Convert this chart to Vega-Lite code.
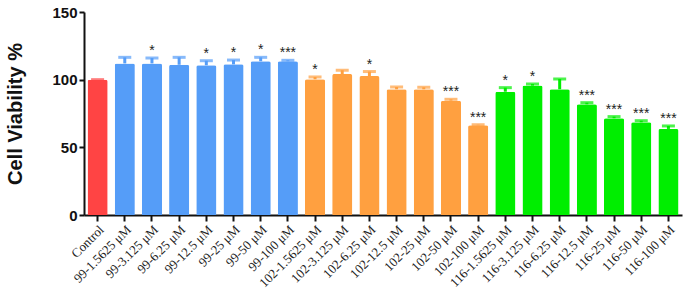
{
  "$schema": "https://vega.github.io/schema/vega-lite/v6.json",
  "width": 598,
  "height": 203,
  "autosize": "none",
  "padding": {"left": 84, "top": 12, "right": 3, "bottom": 86},
  "background": "white",
  "config": {"view": {"stroke": null}},
  "data": {
    "values": [
      {"label": "Control", "group": "Control", "value": 100, "err": 100, "sig": ""},
      {"label": "99-1.5625 μM", "group": "99", "value": 112, "err": 116.5, "sig": ""},
      {"label": "99-3.125 μM", "group": "99", "value": 112, "err": 116, "sig": "*"},
      {"label": "99-6.25 μM", "group": "99", "value": 111, "err": 116.5, "sig": ""},
      {"label": "99-12.5 μM", "group": "99", "value": 110.6, "err": 114, "sig": "*"},
      {"label": "99-25 μM", "group": "99", "value": 111.3, "err": 114.5, "sig": "*"},
      {"label": "99-50 μM", "group": "99", "value": 113.6, "err": 116.5, "sig": "*"},
      {"label": "99-100 μM", "group": "99", "value": 113.6, "err": 114.3, "sig": "***"},
      {"label": "102-1.5625 μM", "group": "102", "value": 100.3, "err": 102, "sig": "*"},
      {"label": "102-3.125 μM", "group": "102", "value": 104.2, "err": 107, "sig": ""},
      {"label": "102-6.25 μM", "group": "102", "value": 102.7, "err": 106, "sig": "*"},
      {"label": "102-12.5 μM", "group": "102", "value": 92.9, "err": 94.6, "sig": ""},
      {"label": "102-25 μM", "group": "102", "value": 92.9, "err": 94.4, "sig": ""},
      {"label": "102-50 μM", "group": "102", "value": 84.5, "err": 85.5, "sig": "***"},
      {"label": "102-100 μM", "group": "102", "value": 66.3, "err": 66.7, "sig": "***"},
      {"label": "116-1.5625 μM", "group": "116", "value": 91.1, "err": 94.1, "sig": "*"},
      {"label": "116-3.125 μM", "group": "116", "value": 95.6, "err": 96.8, "sig": "*"},
      {"label": "116-6.25 μM", "group": "116", "value": 92.9, "err": 100.5, "sig": ""},
      {"label": "116-12.5 μM", "group": "116", "value": 81.8, "err": 83, "sig": "***"},
      {"label": "116-25 μM", "group": "116", "value": 71.5, "err": 72.7, "sig": "***"},
      {"label": "116-50 μM", "group": "116", "value": 68.5, "err": 69.7, "sig": "***"},
      {"label": "116-100 μM", "group": "116", "value": 63.6, "err": 65.8, "sig": "***"}
    ]
  },
  "encoding": {
    "x": {
      "field": "label",
      "type": "nominal",
      "sort": null,
      "scale": {"paddingInner": 0.26, "paddingOuter": 0.13},
      "axis": {
        "title": null,
        "labelAngle": -45,
        "labelFont": "Liberation Serif",
        "labelFontSize": 13,
        "labelColor": "#222",
        "labelPadding": 2,
        "tickSize": 6,
        "tickWidth": 2,
        "tickColor": "#111",
        "domainWidth": 2,
        "domainColor": "#111"
      }
    }
  },
  "layer": [
    {
      "mark": {"type": "rule", "strokeWidth": 3},
      "encoding": {
        "y": {"field": "value", "type": "quantitative", "scale": {"domain": [0, 150], "nice": false}},
        "y2": {"field": "err"},
        "color": {"field": "group", "type": "nominal", "legend": null,
          "scale": {"domain": ["Control", "99", "102", "116"], "range": ["#FF4444", "#559DF8", "#FFA040", "#00EE00"]}}
      }
    },
    {
      "mark": {"type": "tick", "size": 13, "thickness": 3},
      "encoding": {
        "y": {"field": "err", "type": "quantitative", "scale": {"domain": [0, 150], "nice": false}},
        "color": {"field": "group", "type": "nominal", "legend": null}
      }
    },
    {
      "mark": {"type": "bar", "cornerRadiusTopLeft": 2, "cornerRadiusTopRight": 2},
      "encoding": {
        "y": {
          "field": "value",
          "type": "quantitative",
          "scale": {"domain": [0, 150], "nice": false},
          "axis": {
            "title": "Cell Viability %",
            "titleFont": "Liberation Sans",
            "titleFontSize": 20,
            "titleFontWeight": "bold",
            "titleColor": "#111",
            "titlePadding": 26,
            "values": [0, 50, 100, 150],
            "labelFont": "Liberation Sans",
            "labelFontSize": 15,
            "labelFontWeight": "bold",
            "labelColor": "#111",
            "labelPadding": 2,
            "tickSize": 5,
            "tickWidth": 2,
            "tickColor": "#111",
            "domainWidth": 2,
            "domainColor": "#111",
            "grid": false
          }
        },
        "color": {"field": "group", "type": "nominal", "legend": null}
      }
    },
    {
      "mark": {"type": "text", "baseline": "middle", "dy": -7, "font": "Liberation Sans", "fontSize": 14, "color": "#222"},
      "encoding": {
        "y": {"field": "err", "type": "quantitative", "scale": {"domain": [0, 150], "nice": false}},
        "text": {"field": "sig"}
      }
    }
  ]
}
